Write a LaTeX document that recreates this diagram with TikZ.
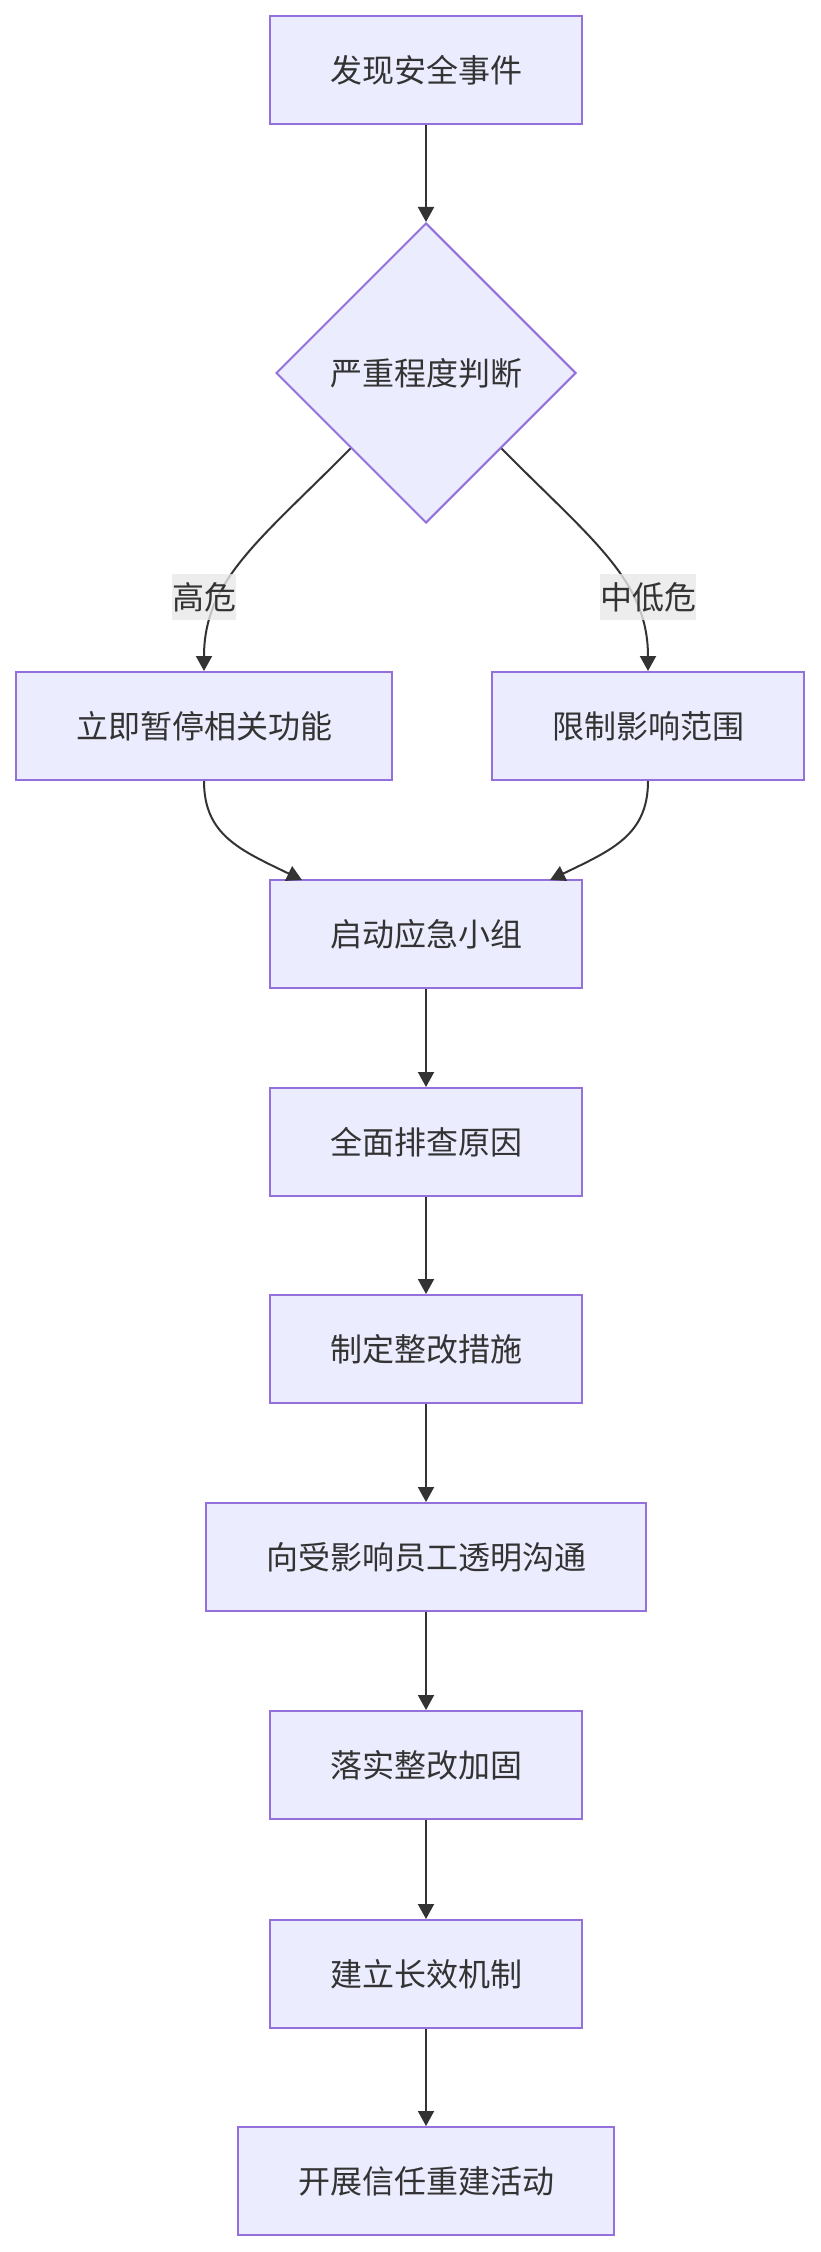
\documentclass[tikz,border=0pt]{standalone}
\usepackage{fontspec}
\setmainfont{Noto Sans CJK SC}
\usetikzlibrary{shapes.geometric,arrows.meta}
\definecolor{boxfill}{HTML}{ECECFF}
\definecolor{boxline}{HTML}{9370DB}
\definecolor{inkgray}{HTML}{333333}
\definecolor{tagfill}{HTML}{E8E8E8}
\tikzset{
  cjk/.style={text=inkgray, font=\fontsize{16pt}{20pt}\selectfont},
  stepbox/.style={cjk, draw=boxline, fill=boxfill, line width=1pt, minimum height=54pt, inner xsep=30pt, inner ysep=0pt},
  choice/.style={cjk, diamond, draw=boxline, fill=boxfill, line width=1pt, minimum width=150pt, minimum height=150pt, inner sep=0pt},
  flow/.style={draw=inkgray, line width=1pt, -{Triangle[length=7.5pt,width=8pt]}},
  tag/.style={cjk, fill=tagfill, fill opacity=0.8, text opacity=1, inner xsep=0pt, inner ysep=0pt, minimum height=23pt}
}
\begin{document}
\begin{tikzpicture}[x=0.5pt, y=-0.5pt]
    \useasboundingbox (0,0) rectangle (820,2252);
    \node[stepbox] (found) at (426,70) {发现安全事件};
    \node[choice] (judge) at (426,373) {严重程度判断};
    \node[stepbox] (pause) at (204,726) {立即暂停相关功能};
    \node[stepbox] (limit) at (648,726) {限制影响范围};
    \node[stepbox] (team) at (426,934) {启动应急小组};
    \node[stepbox] (cause) at (426,1142) {全面排查原因};
    \node[stepbox] (plan) at (426,1349) {制定整改措施};
    \node[stepbox] (talk) at (426,1557) {向受影响员工透明沟通};
    \node[stepbox] (fix) at (426,1765) {落实整改加固};
    \node[stepbox] (rule) at (426,1974) {建立长效机制};
    \node[stepbox] (trust) at (426,2181) {开展信任重建活动};
    \draw[flow] (found.south) -- (judge.north);
    \draw[flow] (judge.south west) .. controls (260,540) and (204,580) .. (pause.north);
    \draw[flow] (judge.south east) .. controls (592,540) and (648,580) .. (limit.north);
    \draw[flow] (pause.south) .. controls (204,835) and (240,850) .. (302,880);
    \draw[flow] (limit.south) .. controls (648,835) and (612,850) .. (550,880);
    \draw[flow] (team.south) -- (cause.north);
    \draw[flow] (cause.south) -- (plan.north);
    \draw[flow] (plan.south) -- (talk.north);
    \draw[flow] (talk.south) -- (fix.north);
    \draw[flow] (fix.south) -- (rule.north);
    \draw[flow] (rule.south) -- (trust.north);
    \node[tag] (high) at (204,597) {高危};
    \node[tag] (mid) at (648,597) {中低危};
\end{tikzpicture}
\end{document}
